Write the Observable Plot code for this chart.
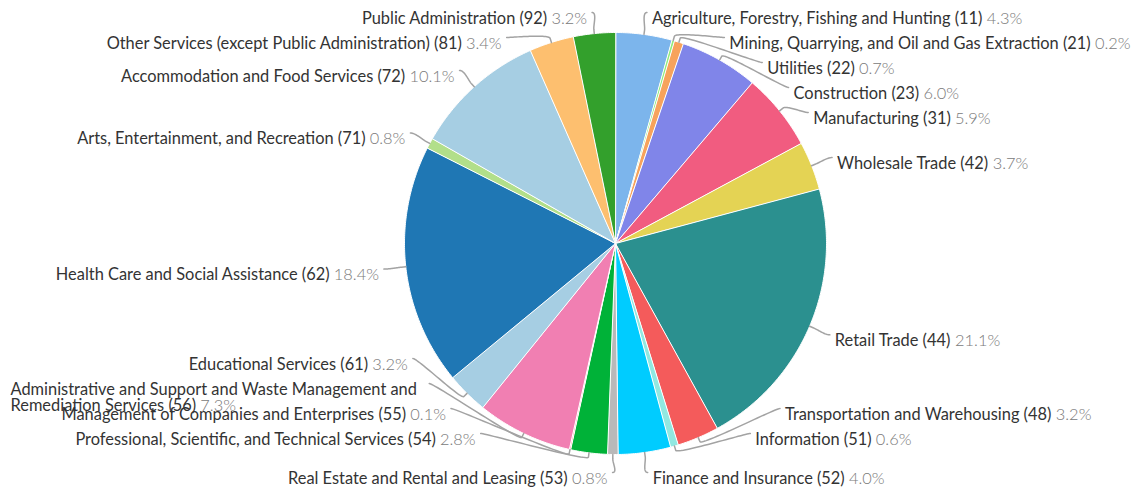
<!DOCTYPE html>
<html><head><meta charset="utf-8">
<script src="https://cdn.jsdelivr.net/npm/d3@7"></script>
<script src="https://cdn.jsdelivr.net/npm/@observablehq/plot@0.6"></script>
<style>body{margin:0;background:#fff}</style>
</head><body>
<div id="chart"></div>
<script>
// ---- data ----
const sectors = [
  "Agriculture, Forestry, Fishing and Hunting",
  "Mining, Quarrying, and Oil and Gas Extraction",
  "Utilities",
  "Construction",
  "Manufacturing",
  "Wholesale Trade",
  "Retail Trade",
  "Transportation and Warehousing",
  "Information",
  "Finance and Insurance",
  "Real Estate and Rental and Leasing",
  "Professional, Scientific, and Technical Services",
  "Management of Companies and Enterprises",
  "Administrative and Support and Waste Management and Remediation Services",
  "Educational Services",
  "Health Care and Social Assistance",
  "Arts, Entertainment, and Recreation",
  "Accommodation and Food Services",
  "Other Services (except Public Administration)",
  "Public Administration"
];
const naicsCodes = [11, 21, 22, 23, 31, 42, 44, 48, 51, 52, 53, 54, 55, 56, 61, 62, 71, 72, 81, 92];
const sharePct = [4.3, 0.2, 0.7, 6.0, 5.9, 3.7, 21.1, 3.2, 0.6, 4.0, 0.8, 2.8, 0.1, 7.3, 3.2, 18.4, 0.8, 10.1, 3.4, 3.2];
const palette = ["#7cb5ec", "#90ed7d", "#f7a35c", "#8085e9", "#f15c80", "#e4d354", "#2b908f", "#f45b5b", "#91e8e1", "#00ccff",
                 "#b9b9b9", "#00b238", "#fb9a99", "#f17fb2", "#a6cee3", "#1f77b4", "#b2df8a", "#a6cee3", "#fdbf6f", "#33a02c"];

// ---- layout parameters ----
const W = 1132, H = 488;
const cx = 615, cy = 243, R = 211, labelDist = 22, rl = R + labelDist;
const pad = 5, slot = 25, lineH = 16, topY = 12, botY = 458, botMax = 472;
const brk = Math.min(10, labelDist / 5);
const FONT_SIZE = 16.4, FONT = "Lato";
const ctx = document.createElement("canvas").getContext("2d");
const measure = (s, w = 400) => { ctx.font = `${w} ${FONT_SIZE}px "${FONT}"`; return ctx.measureText(s).width; };

const total = d3.sum(sharePct);
const pt = (a, r) => [cx + r * Math.sin(a), cy - r * Math.cos(a)];

let acc = 0;
const slices = sectors.map((s, i) => {
  const a0 = acc / total * 2 * Math.PI; acc += sharePct[i];
  const a1 = acc / total * 2 * Math.PI;
  return {i, name: s, code: naicsCodes[i], value: sharePct[i], color: palette[i], a0, a1, mid: (a0 + a1) / 2};
});

// slice polygons
const slicePts = [];
for (const d of slices) {
  slicePts.push({key: d.i, color: d.color, x: cx, y: cy});
  const n = Math.max(2, Math.ceil((d.a1 - d.a0) / (Math.PI / 360)));
  for (let k = 0; k <= n; k++) {
    const [x, y] = pt(d.a0 + (d.a1 - d.a0) * k / n, R);
    slicePts.push({key: d.i, color: d.color, x, y});
  }
}

// label distribution (per side)
const labels = slices.map(d => {
  const [nx, ny] = pt(d.mid, rl);
  return {...d, left: d.mid > Math.PI, target: ny, natX: nx};
});
function distribute(items) {
  let boxes = items.map(it => ({targets: [it.target], members: [it], size: slot, pos: 0}));
  const lo = topY - slot / 2, hi = botY + slot / 2;
  let overlapping = true;
  while (overlapping) {
    for (const b of boxes) {
      const mid = (d3.min(b.targets) + d3.max(b.targets)) / 2;
      b.pos = Math.max(lo, Math.min(hi - b.size, mid - b.size / 2));
    }
    overlapping = false;
    for (let i = boxes.length - 1; i > 0; i--) {
      const p = boxes[i - 1], b = boxes[i];
      if (p.pos + p.size > b.pos + 1e-6) {
        p.size += b.size; p.targets = p.targets.concat(b.targets); p.members = p.members.concat(b.members);
        boxes.splice(i, 1); overlapping = true;
      }
    }
  }
  for (const b of boxes) b.members.forEach((m, k) => { m.y = b.pos + slot / 2 + k * slot; });
}
for (const side of [false, true]) distribute(labels.filter(l => l.left === side).sort((a, b) => a.target - b.target));
for (const l of labels) {
  if (Math.abs(l.y - topY) < 0.5) l.x = l.natX;
  else if (Math.abs(l.y - botY) < 0.5) { l.x = l.natX; l.y = Math.min(l.target, botMax); }
  else { const dy = l.y - cy; l.x = cx + (l.left ? -1 : 1) * Math.sqrt(Math.max(0, rl * rl - dy * dy)); }
}

// connectors (soft connector: cubic curve to a break point, then straight to the slice edge)
const connPts = [];
for (const l of labels) {
  const [tx, ty] = pt(l.mid, R);
  const [bx, by] = pt(l.mid, R + brk);
  const p0 = [l.x, l.y], c1 = [l.x + (l.left ? 5 : -5), l.y], c2 = [2 * bx - tx, 2 * by - ty], p3 = [bx, by];
  const N = 30;
  for (let k = 0; k <= N; k++) {
    const t = k / N, u = 1 - t;
    const x = u*u*u*p0[0] + 3*u*u*t*c1[0] + 3*u*t*t*c2[0] + t*t*t*p3[0];
    const y = u*u*u*p0[1] + 3*u*u*t*c1[1] + 3*u*t*t*c2[1] + t*t*t*p3[1];
    connPts.push({key: l.i, x, y});
  }
  connPts.push({key: l.i, x: tx, y: ty});
}

// label texts (name dark, share lighter), wrapped when wider than the room left
const nameTexts = [], pctTexts = [];
const spaceW = measure(" ");
for (const l of labels) {
  const name = `${l.name} (${l.code})`, pct = `${l.value.toFixed(1)}%`;
  const full = measure(name) + spaceW + measure(pct, 300);
  const room = l.left ? (l.x - pad - 10) : (W - (l.x + pad));
  const ty = l.y + 6;
  if (full <= room) {
    if (l.left) {
      pctTexts.push({x: l.x - pad, y: ty, text: pct, anchor: "end"});
      nameTexts.push({x: l.x - pad - measure(pct, 300) - spaceW, y: ty, text: name, anchor: "end"});
    } else {
      nameTexts.push({x: l.x + pad, y: ty, text: name, anchor: "start"});
      pctTexts.push({x: l.x + pad + measure(name) + spaceW, y: ty, text: pct, anchor: "start"});
    }
  } else {
    const words = name.split(" ");
    const lines = []; let cur = "";
    for (const w of words) {
      const trial = cur ? cur + " " + w : w;
      if (measure(trial) <= room || !cur) cur = trial; else { lines.push(cur); cur = w; }
    }
    lines.push(cur);
    const x0 = l.left ? l.x - pad - room : l.x + pad;
    lines.forEach((s, k) => nameTexts.push({x: x0, y: ty + k * lineH, text: s, anchor: "start"}));
    const last = lines[lines.length - 1];
    pctTexts.push({x: x0 + measure(last) + spaceW, y: ty + (lines.length - 1) * lineH, text: pct, anchor: "start"});
  }
}

const textOpts = (fill, weight) => ({x: "x", y: "y", text: "text", fill, fontSize: FONT_SIZE, fontFamily: FONT, fontWeight: weight, lineAnchor: "middle"});
const chart = Plot.plot({
  width: W, height: H, margin: 0,
  x: {domain: [0, W], range: [0, W], axis: null},
  y: {domain: [0, H], range: [0, H], axis: null},
  color: {type: "identity"},
  style: {fontFamily: FONT, background: "#fff"},
  marks: [
    Plot.line(slicePts, {x: "x", y: "y", z: "key", fill: "color", stroke: "#ffffff", strokeWidth: 1, curve: "linear-closed", strokeLinejoin: "round"}),
    Plot.line(connPts, {x: "x", y: "y", z: "key", stroke: "#a3a3a3", strokeWidth: 1.5, curve: "linear"}),
    Plot.text(nameTexts.filter(d => d.anchor === "start"), {...textOpts("#333333", 400), textAnchor: "start"}),
    Plot.text(nameTexts.filter(d => d.anchor === "end"), {...textOpts("#333333", 400), textAnchor: "end"}),
    Plot.text(pctTexts.filter(d => d.anchor === "start"), {...textOpts("#7a7a7a", 300), textAnchor: "start"}),
    Plot.text(pctTexts.filter(d => d.anchor === "end"), {...textOpts("#7a7a7a", 300), textAnchor: "end"})
  ]
});
document.getElementById("chart").appendChild(chart);
</script></body></html>
